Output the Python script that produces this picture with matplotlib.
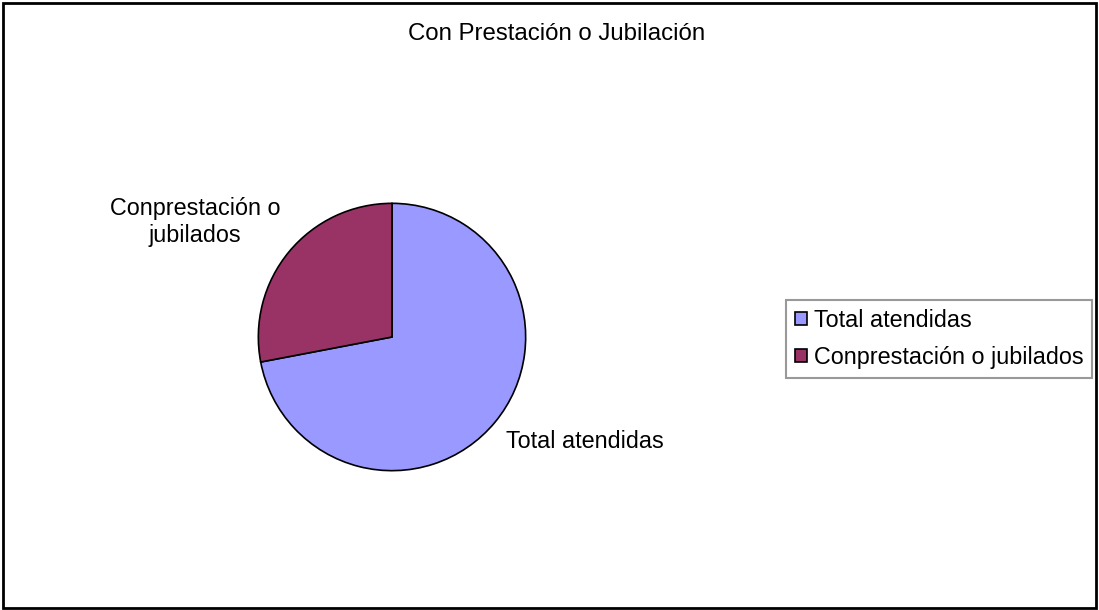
import matplotlib
matplotlib.use("Agg")
import matplotlib.pyplot as plt
from matplotlib.patches import Rectangle

plt.rcParams['font.family'] = ['Liberation Sans', 'DejaVu Sans']

title = "Con Prestación o Jubilación"
categories = ["Total atendidas", "Conprestación o jubilados"]
slice_labels = ["Total atendidas", "Conprestación o\njubilados"]
values = [72, 28]
colors = ["#9999FF", "#993366"]

W, H = 1099, 610
fig = plt.figure(figsize=(W / 100, H / 100), dpi=100)

def fx(px):
    return px / W

def fy(py):
    return 1 - py / H

# outer border
fig.patches.append(Rectangle((fx(3), fy(608)), fx(1096) - fx(3), fy(3) - fy(608),
                             transform=fig.transFigure, fill=False,
                             edgecolor='black', linewidth=2))

cx, cy, r = 392, 337, 135
ax = fig.add_axes([fx(cx - r), fy(cy + r), 2 * r / W, 2 * r / H])
wedges, _ = ax.pie(values, colors=colors, startangle=90, counterclock=False,
                   wedgeprops=dict(edgecolor='black', linewidth=1.2))
ax.set_xlim(-1.01, 1.01)
ax.set_ylim(-1.01, 1.01)
ax.set_aspect('equal')
ax.axis('off')

fs = 16.8
fig.text(fx(557), fy(34), title, ha='center', va='center', fontsize=17.3)
fig.text(fx(506), fy(441), slice_labels[0], ha='left', va='center', fontsize=fs)
fig.text(fx(195), fy(222), slice_labels[1], ha='center', va='center', fontsize=fs,
         linespacing=1.25)

leg = fig.legend(wedges, categories, loc='upper left',
                 bbox_to_anchor=(fx(786), fy(300)), fontsize=fs,
                 frameon=True, fancybox=False, edgecolor='#808080',
                 handlelength=0.52, handleheight=0.52, handletextpad=0.3,
                 borderpad=0.38, labelspacing=0.6, borderaxespad=0)
leg.get_frame().set_linewidth(1.5)

fig.savefig("out.png", dpi=100, facecolor='white')
